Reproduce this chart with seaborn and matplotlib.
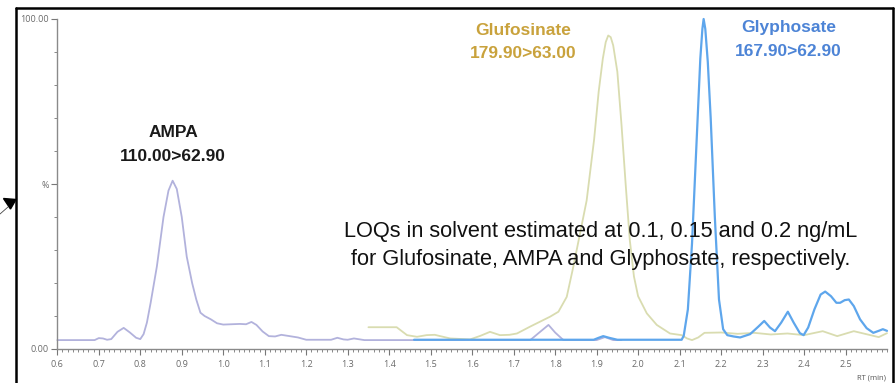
import numpy as np
import pandas as pd
import seaborn as sns
import matplotlib.pyplot as plt
from matplotlib.lines import Line2D
from matplotlib.patches import Polygon
from matplotlib.ticker import MultipleLocator, FixedLocator, FixedFormatter

# Retention time (min) and relative intensity (%) for each MRM trace
ampa_rt = [0.60, 0.69, 0.70, 0.71, 0.72, 0.73, 0.745, 0.76, 0.775, 0.79, 0.80, 0.808,
           0.816, 0.825, 0.84, 0.856, 0.868, 0.878, 0.888, 0.90, 0.912, 0.925, 0.935,
           0.945, 0.955, 0.97, 0.985, 1.00, 1.02, 1.04, 1.055, 1.068, 1.08, 1.095, 1.11,
           1.125, 1.14, 1.16, 1.18, 1.20, 1.26, 1.275, 1.29, 1.30, 1.315, 1.33, 1.34,
           1.74, 1.76, 1.784, 1.80, 1.82, 1.90, 1.92, 1.94, 1.96]
ampa_int = [2.7, 2.7, 3.3, 3.2, 2.8, 3.0, 5.2, 6.4, 5.0, 3.4, 3.0, 4.5,
            8.0, 14.0, 25.0, 40.0, 48.0, 51.0, 48.5, 40.0, 28.0, 20.0, 15.0,
            11.0, 10.0, 9.0, 7.8, 7.4, 7.5, 7.6, 7.5, 8.2, 7.3, 5.3, 3.9,
            3.8, 4.3, 3.9, 3.5, 2.8, 2.8, 3.4, 2.9, 2.8, 3.2, 2.9, 2.7,
            2.7, 4.8, 7.3, 5.0, 2.7, 2.7, 3.6, 2.7, 2.7]

gluf_rt = [1.35, 1.418, 1.443, 1.467, 1.49, 1.51, 1.523, 1.547, 1.595, 1.62, 1.643,
           1.667, 1.69, 1.708, 1.74, 1.764, 1.788, 1.808, 1.828, 1.844, 1.86, 1.876,
           1.894, 1.905, 1.915, 1.922, 1.928, 1.934, 1.94, 1.95, 1.96, 1.97, 1.98, 1.99,
           2.00, 2.021, 2.045, 2.077, 2.105, 2.118, 2.13, 2.145, 2.16, 2.20, 2.24,
           2.28, 2.32, 2.36, 2.40, 2.445, 2.48, 2.52, 2.55, 2.58, 2.60]
gluf_int = [6.6, 6.6, 4.2, 3.7, 4.2, 4.3, 3.9, 3.2, 2.9, 4.0, 5.2,
            4.2, 4.3, 4.7, 6.8, 8.3, 9.8, 11.3, 15.8, 25.0, 35.0, 45.0,
            63.5, 78.0, 88.0, 93.0, 95.0, 94.5, 92.0, 84.0, 68.0, 50.0, 33.0, 22.0,
            16.0, 10.8, 7.3, 4.7, 4.2, 3.2, 2.7, 3.5, 4.9, 5.0, 4.6,
            4.9, 4.4, 4.7, 4.2, 5.4, 3.9, 5.4, 4.5, 3.6, 4.8]

glyp_rt = [1.46, 1.893, 1.905, 1.916, 1.93, 1.95, 2.105, 2.11, 2.12, 2.13, 2.14,
           2.15, 2.155, 2.158, 2.162, 2.168, 2.175, 2.185, 2.195, 2.205, 2.215, 2.23,
           2.246, 2.27, 2.29, 2.304, 2.318, 2.33, 2.345, 2.361, 2.375, 2.39, 2.399,
           2.41, 2.425, 2.44, 2.451, 2.465, 2.478, 2.487, 2.498, 2.508, 2.52, 2.535,
           2.551, 2.567, 2.58, 2.59, 2.60]
glyp_int = [2.8, 2.8, 3.4, 3.9, 3.4, 2.8, 2.8, 4.0, 12.0, 32.0, 60.0,
            88.0, 97.0, 100.0, 97.0, 87.0, 70.0, 40.0, 15.0, 6.0, 4.2, 3.8,
            3.5, 4.5, 6.8, 8.5, 6.5, 5.4, 8.0, 11.3, 8.0, 4.8, 4.2,
            6.5, 12.0, 16.5, 17.4, 16.0, 14.0, 14.0, 14.8, 15.0, 13.0, 9.0,
            6.3, 4.9, 5.5, 6.0, 5.5]

x_ticks = [0.6, 0.7, 0.8, 0.9, 1.0, 1.1, 1.2, 1.3, 1.4, 1.5, 1.6, 1.7, 1.8, 1.9,
           2.0, 2.1, 2.2, 2.3, 2.4, 2.5]
y_ticks = [0, 50, 100]
y_tick_labels = ["0.00", "%", "100.00"]

traces = pd.concat([
    pd.DataFrame({"rt": ampa_rt, "intensity": ampa_int, "trace": "AMPA"}),
    pd.DataFrame({"rt": gluf_rt, "intensity": gluf_int, "trace": "Glufosinate"}),
    pd.DataFrame({"rt": glyp_rt, "intensity": glyp_int, "trace": "Glyphosate"}),
])

line_colors = {"AMPA": "#b2b2dc", "Glufosinate": "#d9dcb0", "Glyphosate": "#5ea6ec"}
line_widths = {"AMPA": 1.3, "Glufosinate": 1.3, "Glyphosate": 1.6}

sns.set_style("white")
plt.rcParams["font.family"] = ["Liberation Sans", "DejaVu Sans"]

W, H = 896, 383
fig = plt.figure(figsize=(W / 100, H / 100), dpi=100)
ax_left, ax_right, ax_bottom, ax_top = 57.3, 887.0, 349.0, 19.0
ax = fig.add_axes([ax_left / W, 1 - ax_bottom / H,
                   (ax_right - ax_left) / W, (ax_bottom - ax_top) / H])

for name in ["AMPA", "Glufosinate", "Glyphosate"]:
    sub = traces[traces["trace"] == name]
    sns.lineplot(data=sub, x="rt", y="intensity", ax=ax, color=line_colors[name],
                 lw=line_widths[name], sort=False, estimator=None, legend=False)
for ln in ax.lines:
    ln.set_clip_on(False)
    ln.set_solid_joinstyle("round")

ax.set_xlim(0.6, 2.6)
ax.set_ylim(0, 100)
ax.set_xlabel("")
ax.set_ylabel("")

# Axis styling: thin grey spines with outward ticks
for side in ["top", "right"]:
    ax.spines[side].set_visible(False)
for side in ["left", "bottom"]:
    ax.spines[side].set_color("#8a8a8a")
    ax.spines[side].set_linewidth(1.0)

ax.xaxis.set_major_locator(FixedLocator(x_ticks))
ax.xaxis.set_major_formatter(FixedFormatter([f"{v:.1f}" for v in x_ticks]))
ax.xaxis.set_minor_locator(MultipleLocator(0.0125))
ax.yaxis.set_major_locator(FixedLocator(y_ticks))
ax.yaxis.set_major_formatter(FixedFormatter(y_tick_labels))
ax.yaxis.set_minor_locator(MultipleLocator(10))

ax.tick_params(axis="both", which="both", bottom=True, left=True, top=False, right=False)
ax.tick_params(axis="both", which="major", direction="out", length=4, width=0.8,
               color="#777777", labelsize=6.5, labelcolor="#6a6a6a", pad=2)
ax.tick_params(axis="both", which="minor", direction="out", length=2.5, width=0.7,
               color="#888888")
ax.tick_params(axis="x", which="major", pad=4)
for lbl in ax.get_xticklabels() + ax.get_yticklabels():
    lbl.set_family(["Open Sans", "DejaVu Sans"])

fig.text(886 / W, 1 - 378 / H, "RT (min)", ha="right", va="center",
         fontsize=5.5, color="#555555", family=["Open Sans", "DejaVu Sans"])

# Peak labels
ax.text(0.879, 65.5, "AMPA", ha="center", va="center", fontsize=12.5,
        fontweight="bold", color="#1a1a1a")
ax.text(0.879, 58.2, "110.00>62.90", ha="center", va="center", fontsize=12.5,
        fontweight="bold", color="#1a1a1a")
ax.text(1.723, 96.4, "Glufosinate", ha="center", va="center", fontsize=12.5,
        fontweight="bold", color="#c9a23c", clip_on=False)
ax.text(1.723, 89.4, "179.90>63.00", ha="center", va="center", fontsize=12.5,
        fontweight="bold", color="#c9a23c")
ax.text(2.362, 97.3, "Glyphosate", ha="center", va="center", fontsize=12.5,
        fontweight="bold", color="#4d84d6", clip_on=False)
ax.text(2.362, 90.1, "167.90>62.90", ha="center", va="center", fontsize=12.5,
        fontweight="bold", color="#4d84d6")

ax.text(1.91, 35.5, "LOQs in solvent estimated at 0.1, 0.15 and 0.2 ng/mL",
        ha="center", va="center", fontsize=15.7, color="#111111")
ax.text(1.91, 27.0, "for Glufosinate, AMPA and Glyphosate, respectively.",
        ha="center", va="center", fontsize=15.7, color="#111111")

# Black frame around the chromatogram (open at the bottom edge of the figure)
def fx(px):
    return px / W

def fy(py):
    return 1 - py / H

frame_kw = dict(color="black", lw=1.8, transform=fig.transFigure)
fig.add_artist(Line2D([fx(16), fx(16)], [fy(8), fy(H + 5)], **frame_kw))
fig.add_artist(Line2D([fx(16), fx(893)], [fy(8), fy(8)], **frame_kw))
fig.add_artist(Line2D([fx(893), fx(893)], [fy(8), fy(H + 5)], **frame_kw))

# Small pointer arrow at the left edge
fig.add_artist(Line2D([fx(0), fx(8)], [fy(214), fy(207)], color="#444444", lw=0.6,
                      transform=fig.transFigure))
fig.add_artist(Polygon([[fx(3.5), fy(198.5)], [fx(16), fy(199.5)], [fx(10.5), fy(209)]],
                       closed=True, facecolor="black", edgecolor="black",
                       transform=fig.transFigure))

fig.savefig("out.png", dpi=100)
